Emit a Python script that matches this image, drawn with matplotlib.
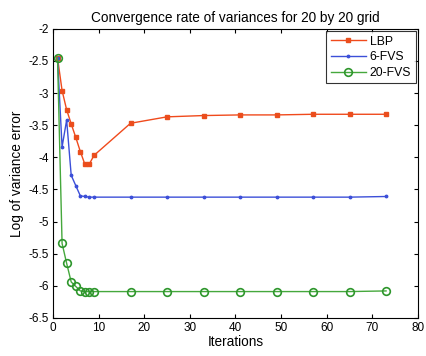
import matplotlib
matplotlib.use("Agg")
import matplotlib.pyplot as plt
from matplotlib.ticker import FuncFormatter

plt.rcParams['font.family'] = ['Liberation Sans', 'DejaVu Sans']

# Iteration counts at which the variance error was recorded
iterations = [1, 2, 3, 4, 5, 6, 7, 8, 9, 17, 25, 33, 41, 49, 57, 65, 73]

# Log of variance error per method
lbp = [-2.45, -2.96, -3.26, -3.48, -3.69, -3.91, -4.11, -4.10, -3.97,
       -3.47, -3.37, -3.35, -3.34, -3.34, -3.33, -3.33, -3.33]
fvs6 = [-2.45, -3.84, -3.42, -4.28, -4.44, -4.60, -4.61, -4.62, -4.62,
        -4.62, -4.62, -4.62, -4.62, -4.62, -4.62, -4.62, -4.61]
fvs20 = [-2.45, -5.34, -5.65, -5.94, -6.01, -6.08, -6.09, -6.09, -6.09,
         -6.09, -6.09, -6.09, -6.09, -6.09, -6.09, -6.09, -6.08]

x_ticks = [0, 10, 20, 30, 40, 50, 60, 70, 80]
y_ticks = [-6.5, -6, -5.5, -5, -4.5, -4, -3.5, -3, -2.5, -2]

fig = plt.figure(figsize=(4.27, 3.56), dpi=100)
ax = fig.add_axes([0.124, 0.107, 0.855, 0.812])

ax.plot(iterations, lbp, color='#f04a1c', lw=1.0, marker='s', ms=3.5,
        mfc='#f04a1c', mec='#e8501e', label='LBP')
ax.plot(iterations, fvs6, color='#3c4fd8', lw=1.0, marker='.', ms=3.5,
        label='6-FVS')
ax.plot(iterations, fvs20, color='#45a83c', lw=1.0, marker='o', ms=5.5,
        mfc='none', mec='#2e962c', mew=1.2, label='20-FVS')

ax.set_xlim(0, 80)
ax.set_ylim(-6.5, -2)
ax.set_xticks(x_ticks)
ax.set_yticks(y_ticks)
ax.yaxis.set_major_formatter(FuncFormatter(lambda v, p: ('%g' % v).replace('\u2212', '-')))
ax.xaxis.set_major_formatter(FuncFormatter(lambda v, p: '%g' % v))
ax.tick_params(direction='in', top=True, right=True, length=3, width=0.8,
               labelsize=8.5, pad=3)
for s in ax.spines.values():
    s.set_linewidth(0.8)

ax.set_title('Convergence rate of variances for 20 by 20 grid', fontsize=9.8, pad=5)
ax.set_xlabel('Iterations', fontsize=9.8, labelpad=1)
ax.set_ylabel('Log of variance error', fontsize=9.8, labelpad=3)

leg = ax.legend(loc='upper right', fontsize=8.8, frameon=True, fancybox=False,
                edgecolor='black', borderpad=0.35, handlelength=2.9,
                labelspacing=0.3, handletextpad=0.3, borderaxespad=0.2)
leg.get_frame().set_linewidth(0.8)

fig.savefig('out.png', dpi=100)
